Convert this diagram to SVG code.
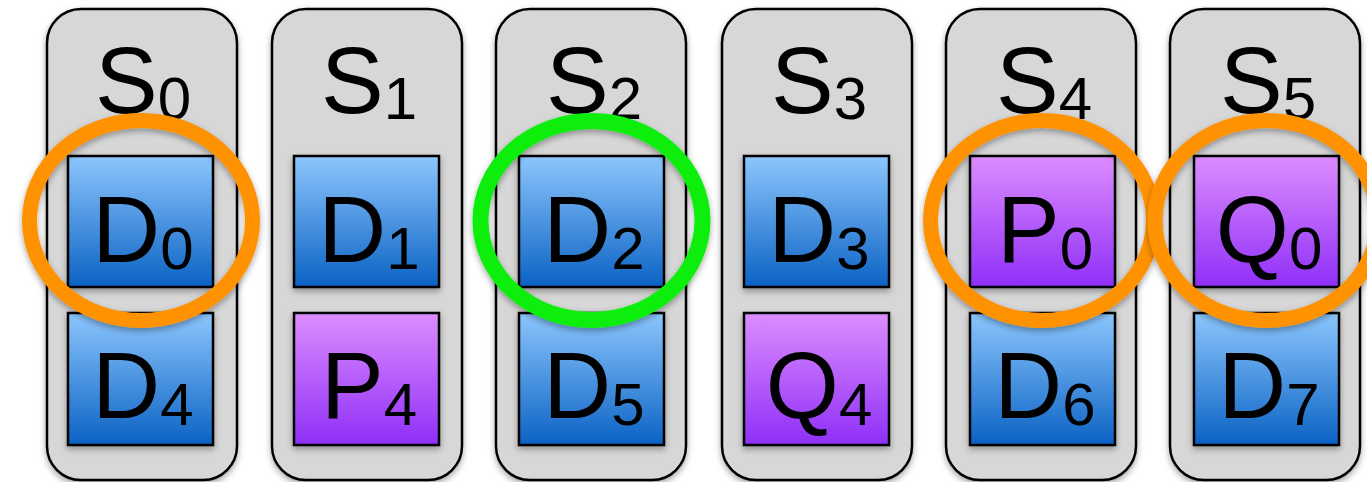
<svg xmlns="http://www.w3.org/2000/svg" width="1367" height="482" viewBox="0 0 1367 482">
<defs>
<linearGradient id="gBlue" x1="0" y1="0" x2="0" y2="1">
<stop offset="0" stop-color="#8cc6fd"/>
<stop offset="1" stop-color="#0b62c4"/>
</linearGradient>
<linearGradient id="gPurple" x1="0" y1="0" x2="0" y2="1">
<stop offset="0" stop-color="#dc8dff"/>
<stop offset="1" stop-color="#8f2ff7"/>
</linearGradient>
<filter id="sh" x="-20%" y="-20%" width="140%" height="150%">
<feDropShadow dx="0" dy="3" stdDeviation="3" flood-color="#000" flood-opacity="0.35"/>
</filter>
<style>
.col{fill:#d7d7d7;stroke:#000;stroke-width:2.5;filter:url(#sh)}
.blue{fill:url(#gBlue);stroke:#000;stroke-width:2.5;filter:url(#sh)}
.purple{fill:url(#gPurple);stroke:#000;stroke-width:2.5;filter:url(#sh)}
.lbl{font-family:"Liberation Sans",Arial,sans-serif;font-size:94px;fill:#000;text-anchor:middle}
.sub{font-size:60px}
.ring{fill:none;filter:url(#sh)}
.orange{stroke:#ff9200;stroke-width:15}
.green{stroke:#11ee11;stroke-width:16}
</style>
</defs>
<rect width="1367" height="482" fill="#fff"/>
<g id="S0">
<rect class="col" x="47" y="9" width="190" height="471" rx="34"/>
<text class="lbl" x="143" y="113">S<tspan class="sub" dy="6">0</tspan></text>
</g>
<g id="S1">
<rect class="col" x="272" y="9" width="190" height="471" rx="34"/>
<text class="lbl" x="369" y="113">S<tspan class="sub" dy="6">1</tspan></text>
</g>
<g id="S2">
<rect class="col" x="496" y="9" width="190" height="471" rx="34"/>
<text class="lbl" x="594" y="113">S<tspan class="sub" dy="6">2</tspan></text>
</g>
<g id="S3">
<rect class="col" x="722" y="9" width="190" height="471" rx="34"/>
<text class="lbl" x="819" y="113">S<tspan class="sub" dy="6">3</tspan></text>
</g>
<g id="S4">
<rect class="col" x="946" y="9" width="190" height="471" rx="34"/>
<text class="lbl" x="1044" y="113">S<tspan class="sub" dy="6">4</tspan></text>
</g>
<g id="S5">
<rect class="col" x="1170" y="9" width="190" height="471" rx="34"/>
<text class="lbl" x="1268" y="113">S<tspan class="sub" dy="6">5</tspan></text>
</g>
<g id="D0"><rect class="blue" x="68" y="156" width="145" height="131"/><text class="lbl" x="143" y="262">D<tspan class="sub" dy="7">0</tspan></text></g>
<g id="D4"><rect class="blue" x="68" y="313" width="145" height="132"/><text class="lbl" x="143" y="418">D<tspan class="sub" dy="7">4</tspan></text></g>
<g id="D1"><rect class="blue" x="294" y="156" width="145" height="131"/><text class="lbl" x="369" y="262">D<tspan class="sub" dy="7">1</tspan></text></g>
<g id="P4"><rect class="purple" x="294" y="313" width="145" height="132"/><text class="lbl" x="369" y="418">P<tspan class="sub" dy="7">4</tspan></text></g>
<g id="D2"><rect class="blue" x="519" y="156" width="145" height="131"/><text class="lbl" x="594" y="262">D<tspan class="sub" dy="7">2</tspan></text></g>
<g id="D5"><rect class="blue" x="519" y="313" width="145" height="132"/><text class="lbl" x="594" y="418">D<tspan class="sub" dy="7">5</tspan></text></g>
<g id="D3"><rect class="blue" x="744" y="156" width="145" height="131"/><text class="lbl" x="819" y="262">D<tspan class="sub" dy="7">3</tspan></text></g>
<g id="Q4"><rect class="purple" x="744" y="313" width="145" height="132"/><text class="lbl" x="819" y="418">Q<tspan class="sub" dy="7">4</tspan></text></g>
<g id="P0"><rect class="purple" x="970" y="156" width="145" height="131"/><text class="lbl" x="1045" y="262">P<tspan class="sub" dy="7">0</tspan></text></g>
<g id="D6"><rect class="blue" x="970" y="313" width="145" height="132"/><text class="lbl" x="1045" y="418">D<tspan class="sub" dy="7">6</tspan></text></g>
<g id="Q0"><rect class="purple" x="1194" y="156" width="145" height="131"/><text class="lbl" x="1269" y="262">Q<tspan class="sub" dy="7">0</tspan></text></g>
<g id="D7"><rect class="blue" x="1194" y="313" width="145" height="132"/><text class="lbl" x="1269" y="418">D<tspan class="sub" dy="7">7</tspan></text></g>
<g id="ring-D0"><ellipse class="ring orange" cx="141" cy="220.5" rx="111.5" ry="100"/></g>
<g id="ring-D2"><ellipse class="ring green" cx="591.5" cy="220.5" rx="111" ry="99.5"/></g>
<g id="ring-P0"><ellipse class="ring orange" cx="1042" cy="220.5" rx="111.5" ry="100"/></g>
<g id="ring-Q0"><ellipse class="ring orange" cx="1266.5" cy="220.5" rx="111.5" ry="100"/></g>
</svg>
